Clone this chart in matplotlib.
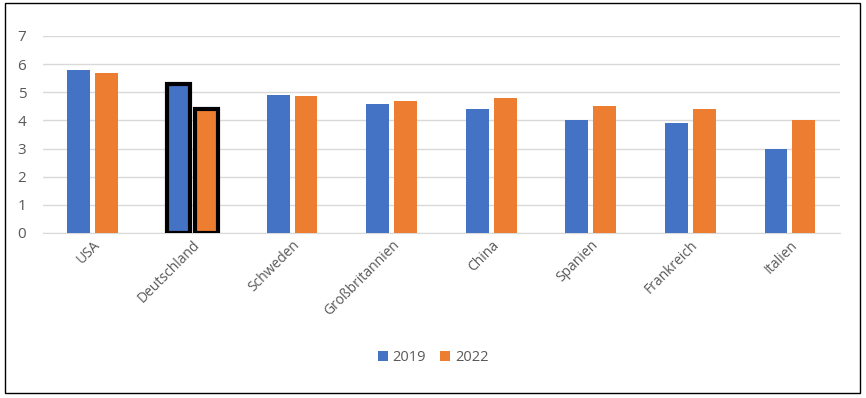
import numpy as np
import matplotlib
matplotlib.use("Agg")
import matplotlib.pyplot as plt
from matplotlib.patches import Rectangle

laender = ["USA", "Deutschland", "Schweden", "Großbritannien", "China",
           "Spanien", "Frankreich", "Italien"]
werte_2019 = [5.8, 5.3, 4.9, 4.6, 4.4, 4.0, 3.9, 3.0]
werte_2022 = [5.7, 4.4, 4.85, 4.7, 4.8, 4.5, 4.4, 4.0]
jahre = ["2019", "2022"]

blau = "#4472C4"
orange = "#ED7D31"
grau = "#595959"

plt.rcParams["font.family"] = ["Open Sans", "DejaVu Sans"]

fig = plt.figure(figsize=(8.66, 3.98), dpi=100)
ax = fig.add_axes([0.0497, 0.4146, 0.920, 0.495])

x = np.arange(len(laender))
b1 = ax.bar(x - 0.14, werte_2019, 0.23, color=blau, label=jahre[0], zorder=3)
b2 = ax.bar(x + 0.14, werte_2022, 0.23, color=orange, label=jahre[1], zorder=3)

# Deutschland hervorheben
for b in (b1[1], b2[1]):
    b.set_edgecolor("black")
    b.set_linewidth(3)

ax.set_xlim(-0.5, len(laender) - 0.5)
ax.set_ylim(0, 7)
ax.set_yticks(range(0, 8))
ax.yaxis.grid(True, color="#D9D9D9", linewidth=1, zorder=0)
for s in ["top", "right", "left"]:
    ax.spines[s].set_visible(False)
ax.spines["bottom"].set_color("#D9D9D9")
ax.tick_params(axis="both", length=0, colors=grau, labelsize=11)
ax.tick_params(axis="y", pad=12)
ax.set_xticks(x)
ax.set_xticklabels(laender, rotation=45, ha="right", rotation_mode="anchor",
                   fontsize=10, color=grau)

fig.legend(loc="lower center", bbox_to_anchor=(0.5, 0.05), ncol=2, frameon=False,
           handlelength=0.7, handleheight=0.7, handletextpad=0.3, columnspacing=1.0,
           labelcolor=grau, fontsize=10.5)

fig.patches.append(Rectangle((0.006, 0.013), 0.987, 0.98, transform=fig.transFigure,
                             fill=False, edgecolor="black", linewidth=1))

fig.savefig("out.png", dpi=100)
